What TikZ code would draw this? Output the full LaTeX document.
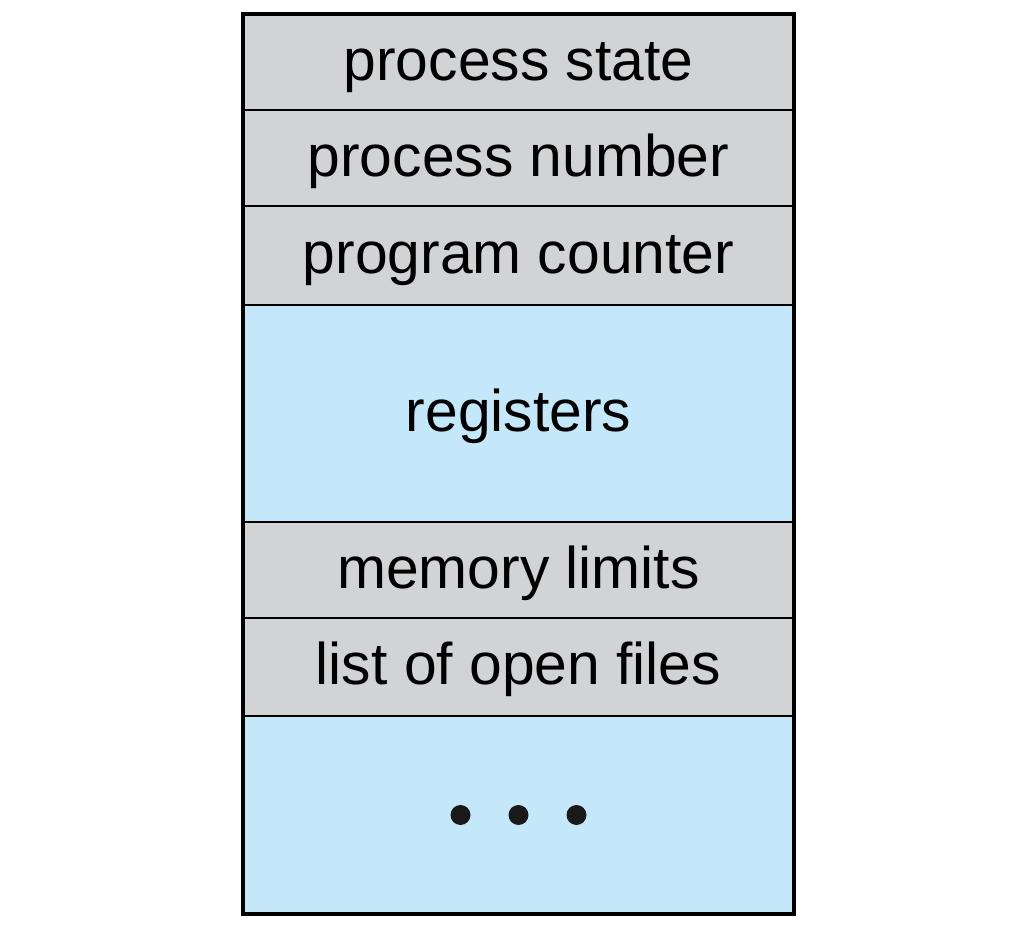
\documentclass[tikz,border=0pt]{standalone}
\usepackage{fontspec}
\newfontfamily\pcbfont{Liberation Sans}
\usetikzlibrary{positioning,calc}
\definecolor{pcbgray}{RGB}{210,211,213}
\definecolor{pcbblue}{RGB}{197,231,250}
\tikzset{
  field/.style={draw=black, line width=1pt, fill=pcbgray, minimum width=275.5pt,
    inner sep=0pt, outer sep=0pt, text height=23pt, text depth=5pt},
  bigfield/.style={field, fill=pcbblue}
}
\begin{document}
\begin{tikzpicture}[x=0.5pt, y=-0.5pt, font=\pcbfont\fontsize{29.4}{32}\selectfont]
  \useasboundingbox (0,0) rectangle (1024,930);
  \node[field, minimum height=48.25pt] (state) at (518.5,62.25) {process state};
  \node[field, minimum height=48pt, below=0pt of state] (number) {process number};
  \node[field, minimum height=49.5pt, below=0pt of number] (counter) {program counter};
  \node[bigfield, minimum height=108.5pt, below=0pt of counter] (registers) {registers};
  \node[field, minimum height=47.75pt, below=0pt of registers] (limits) {memory limits};
  \node[field, minimum height=49pt, below=0pt of limits] (files) {list of open files};
  \node[bigfield, minimum height=99pt, below=0pt of files] (dots) {};
  % ellipsis
  \foreach \dx in {-58,0,58}
    \fill[black!90] ($(dots.center)+(\dx,0)$) circle (10);
  % outer frame
  \draw[line width=2pt] (state.north west) rectangle (dots.south east);
\end{tikzpicture}
\end{document}
